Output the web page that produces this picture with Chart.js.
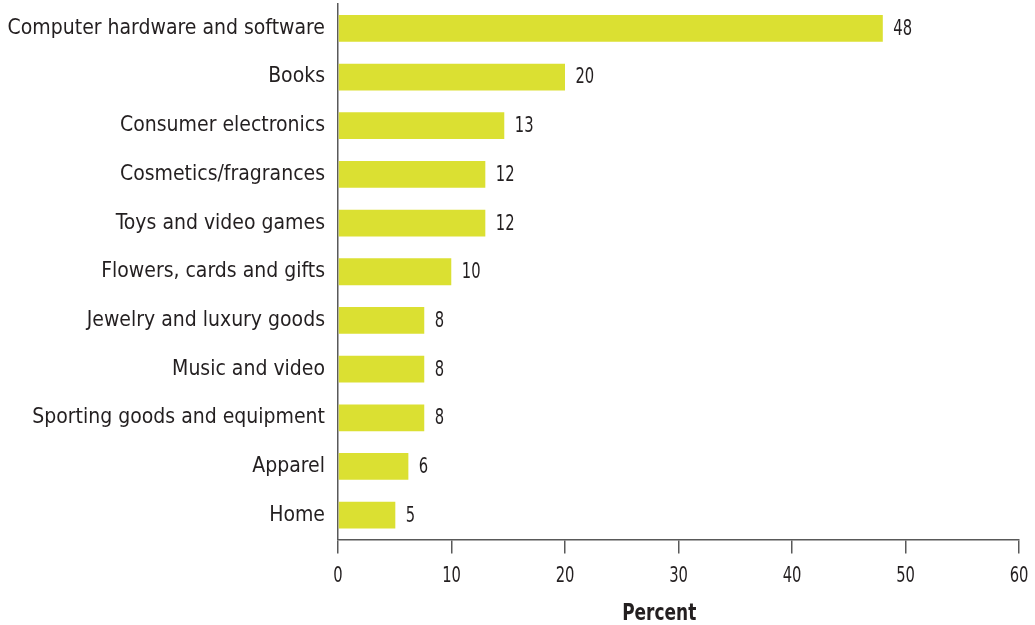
<!DOCTYPE html>
<html>
<head>
<meta charset="utf-8">
<script src="https://cdn.jsdelivr.net/npm/chart.js@4.4.1/dist/chart.umd.min.js"></script>
<style>
html,body{margin:0;padding:0;background:#ffffff;}
#wrap{width:1035px;height:625px;position:relative;}
</style>
</head>
<body>
<div id="wrap"><canvas id="c"></canvas></div>
<script>
// ---- data ----
const categories = [
  'Computer hardware and software',
  'Books',
  'Consumer electronics',
  'Cosmetics/fragrances',
  'Toys and video games',
  'Flowers, cards and gifts',
  'Jewelry and luxury goods',
  'Music and video',
  'Sporting goods and equipment',
  'Apparel',
  'Home'
];
const values = [48.0, 20.0, 14.65, 12.98, 12.98, 9.98, 7.6, 7.6, 7.6, 6.2, 5.05];
const valueLabels = ['48', '20', '13', '12', '12', '10', '8', '8', '8', '6', '5'];
const xTicks = [0, 10, 20, 30, 40, 50, 60];
const axisTitle = 'Percent';

// ---- styles ----
const catFont = "'DejaVu Sans Condensed', 'DejaVu Sans', sans-serif";
const numFont = "'DejaVu Sans Condensed', 'DejaVu Sans', sans-serif";
const numSqueeze = 0.78;
const textColor = '#231f20';
const axisColor = '#595959';
const barColor = '#dbe032';

function squeezedText(ctx, text, x, y, sx) {
  ctx.save();
  ctx.translate(x, y);
  ctx.scale(sx, 1);
  ctx.fillText(text, 0, 0);
  ctx.restore();
}

const valueLabelPlugin = {
  id: 'valueLabels',
  afterDatasetsDraw(chart) {
    const ctx = chart.ctx;
    const meta = chart.getDatasetMeta(0);
    ctx.save();
    ctx.font = '21px ' + numFont;
    ctx.fillStyle = textColor;
    ctx.textAlign = 'left';
    ctx.textBaseline = 'middle';
    meta.data.forEach((bar, i) => {
      squeezedText(ctx, valueLabels[i], bar.x + 10.5, bar.y + 1, numSqueeze);
    });
    ctx.restore();
  }
};

const xLabelPlugin = {
  id: 'xLabels',
  afterDraw(chart) {
    const ctx = chart.ctx;
    const xs = chart.scales.x;
    ctx.save();
    ctx.fillStyle = textColor;
    ctx.textBaseline = 'middle';
    ctx.textAlign = 'center';
    ctx.font = '21px ' + numFont;
    xTicks.forEach(v => {
      squeezedText(ctx, String(v), xs.getPixelForValue(v), xs.top + 37, numSqueeze);
    });
    ctx.font = 'bold 23px ' + numFont;
    squeezedText(ctx, axisTitle, xs.getPixelForValue(28.3), chart.height - 10.5, 0.82);
    ctx.restore();
  }
};

new Chart(document.getElementById('c'), {
  type: 'bar',
  data: {
    labels: categories,
    datasets: [{
      data: values,
      backgroundColor: barColor,
      borderWidth: 0,
      barPercentage: 0.55,
      categoryPercentage: 1.0
    }]
  },
  options: {
    indexAxis: 'y',
    responsive: true,
    maintainAspectRatio: false,
    animation: false,
    devicePixelRatio: 1,
    layout: { padding: { left: 0, right: 16, top: 4, bottom: 0 } },
    plugins: {
      legend: { display: false },
      tooltip: { enabled: false },
      title: { display: false }
    },
    scales: {
      x: {
        type: 'linear',
        position: 'bottom',
        min: xTicks[0],
        max: xTicks[xTicks.length - 1],
        afterBuildTicks(scale) { scale.ticks = xTicks.map(v => ({ value: v })); },
        ticks: { display: false },
        grid: {
          drawOnChartArea: false,
          drawTicks: true,
          tickLength: 14,
          color: axisColor,
          lineWidth: 1.5
        },
        border: { display: true, color: axisColor, width: 1.5 },
        afterFit(scale) {
          scale.height = 85.5;
          scale.paddingLeft = 0; scale.paddingRight = 0;
          scale.paddingTop = 0; scale.paddingBottom = 0;
        }
      },
      y: {
        position: 'left',
        ticks: {
          color: textColor,
          font: { family: catFont, size: 21 },
          padding: 13,
          autoSkip: false
        },
        grid: { display: false, drawTicks: false },
        border: { display: true, color: axisColor, width: 1.5 },
        afterFit(scale) {
          scale.width = 338;
          scale.paddingLeft = 0; scale.paddingRight = 0;
          scale.paddingTop = 0; scale.paddingBottom = 0;
        }
      }
    }
  },
  plugins: [valueLabelPlugin, xLabelPlugin]
});
</script>
</body>
</html>
